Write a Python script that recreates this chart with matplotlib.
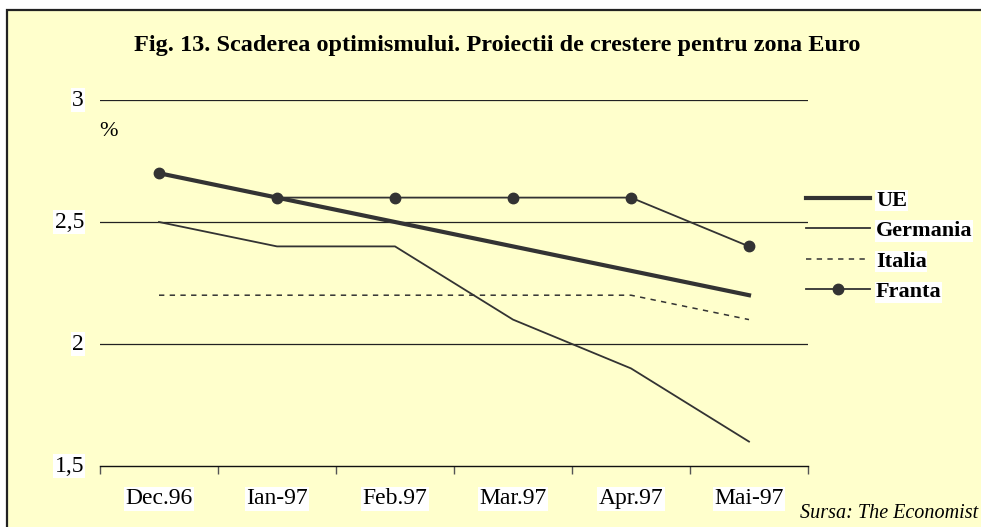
import matplotlib.pyplot as plt
import numpy as np
from matplotlib.patches import Rectangle

plt.rcParams['font.family'] = ['Liberation Serif', 'DejaVu Serif']

# date
luni = ['Dec.96', 'Ian-97', 'Feb.97', 'Mar.97', 'Apr.97', 'Mai-97']
ue = [2.7, 2.6, 2.5, 2.4, 2.3, 2.2]
germania = [2.5, 2.4, 2.4, 2.1, 1.9, 1.6]
italia = [2.2, 2.2, 2.2, 2.2, 2.2, 2.1]
franta = [2.7, 2.6, 2.6, 2.6, 2.6, 2.4]
y_ticks = [1.5, 2, 2.5, 3]
y_labels = ['1,5', '2', '2,5', '3']

bg = '#ffffcc'
dark = '#333333'

fig = plt.figure(figsize=(9.81, 5.27), dpi=100)
fig.patch.set_facecolor('white')
fig.patches.append(Rectangle((7/981, -0.05), 1.0, 1 - 10/527 + 0.05,
                             transform=fig.transFigure, facecolor=bg,
                             edgecolor='#222222', linewidth=1.6, zorder=-1))

ax = fig.add_axes([100/981, 1 - 466/527, 708/981, 366/527])
ax.set_facecolor('none')
ax.set_zorder(1)

x = np.arange(len(luni))
ax.plot(x, germania, color=dark, lw=1.3, label='Germania', zorder=3)
ax.plot(x, italia, color=dark, lw=1.1, ls=(0, (3.5, 3.5)), label='Italia', zorder=3)
ax.plot(x, franta, color=dark, lw=1.3, marker='o', ms=7.5, label='Franta', zorder=4)
ax.plot(x, ue, color=dark, lw=3, label='UE', zorder=5)

ax.set_xlim(-0.5, 5.5)
ax.set_ylim(1.5, 3)
for v in y_ticks[1:]:
    ax.axhline(v, color='#222222', lw=0.9, zorder=1)

for s in ['top', 'right', 'left']:
    ax.spines[s].set_visible(False)
ax.spines['bottom'].set_color('#111111')
ax.spines['bottom'].set_linewidth(1.0)

ax.set_xticks(np.arange(-0.5, 6, 1))
ax.set_xticklabels([])
ax.tick_params(axis='x', direction='out', length=6, width=1, color='#555555')
for i, lab in enumerate(luni):
    ax.text(i, 1.365, lab, ha='center', va='center', fontsize=17,
            bbox=dict(facecolor='white', edgecolor='none', pad=1), clip_on=False)

ax.set_yticks([])
for v, lab in zip(y_ticks, y_labels):
    ax.text(-0.636, v, lab, ha='right', va='center', fontsize=17,
            bbox=dict(facecolor='white', edgecolor='none', pad=1), clip_on=False)

ax.text(-0.43, 2.87, '%', ha='center', va='center', fontsize=16)

fig.text(497/981, 1 - 45/527, 'Fig. 13. Scaderea optimismului. Proiectii de crestere pentru zona Euro',
         ha='center', va='center', fontsize=17.5, fontweight='bold')
fig.text(978/981, 1 - 513/527, 'Sursa: The Economist', ha='right', va='center',
         fontsize=14.5, style='italic')

handles, labels = ax.get_legend_handles_labels()
order = [3, 0, 1, 2]
leg = fig.legend([handles[i] for i in order], [labels[i] for i in order],
                 loc='upper left', bbox_to_anchor=(786/981, 1 - 170/527),
                 frameon=False, handlelength=2.9, handletextpad=0.25,
                 labelspacing=0.45, prop={'weight': 'bold', 'size': 16})
for t in leg.get_texts():
    t.set_bbox(dict(facecolor='white', edgecolor='none', pad=0.5))

fig.savefig('out.png', dpi=100, facecolor=fig.get_facecolor())
